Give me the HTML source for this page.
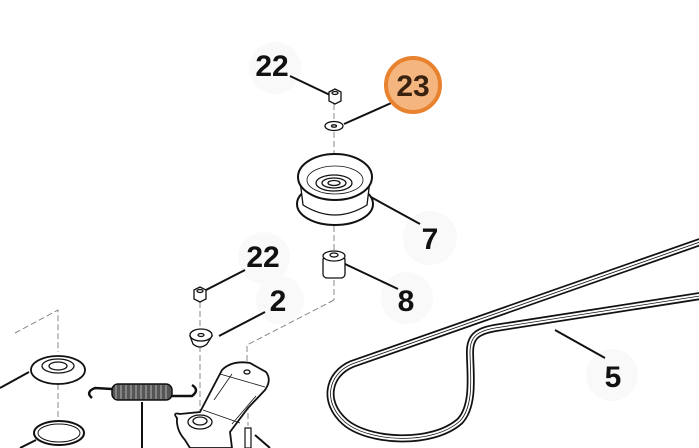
<!DOCTYPE html>
<html><head><meta charset="utf-8"><style>
html,body{margin:0;padding:0;background:#fff;width:699px;height:448px;overflow:hidden}
svg{display:block}
text{font-family:"Liberation Sans",sans-serif;font-weight:bold;font-size:30px;fill:#111}
</style></head><body>
<svg width="699" height="448" viewBox="0 0 699 448" xmlns="http://www.w3.org/2000/svg">
<g fill="#f9f9f9">
<circle cx="275" cy="68" r="26"/><circle cx="430" cy="238" r="27"/><circle cx="407" cy="298" r="26"/>
<circle cx="264" cy="258" r="26"/><circle cx="280" cy="300" r="24"/><circle cx="612" cy="375" r="26"/>
</g>
<g stroke="#888" stroke-width="1" stroke-dasharray="6,3" fill="none">
<line x1="334" y1="104" x2="334" y2="120"/><line x1="334" y1="132" x2="334" y2="168"/>
<line x1="334" y1="226" x2="334" y2="250"/><line x1="334" y1="280" x2="334" y2="300"/>
<polyline points="334,300 247,345 247,362"/>
<line x1="200" y1="302" x2="200" y2="330"/><line x1="200" y1="346" x2="200" y2="418"/>
<polyline points="15,333 58,310 58,352"/><line x1="58" y1="384" x2="58" y2="420"/>
<line x1="248" y1="395" x2="248" y2="426"/>
</g>
<g stroke="#111" stroke-width="2" fill="none">
<line x1="290" y1="76" x2="330" y2="95"/>
<line x1="344" y1="124" x2="398" y2="100"/>
<line x1="369" y1="196" x2="420" y2="224"/>
<line x1="345" y1="264" x2="398" y2="289"/>
<line x1="245" y1="270" x2="206" y2="290"/>
<line x1="265" y1="312" x2="219" y2="336"/>
<line x1="555" y1="330" x2="605" y2="358"/>
<line x1="0" y1="388" x2="29" y2="372"/>
<line x1="142" y1="402" x2="142" y2="448"/>
<line x1="255" y1="435" x2="270" y2="448"/>
<line x1="20" y1="448" x2="36" y2="440"/>
</g>
<g stroke="#111" stroke-width="1.3" fill="#fff">
<polygon points="329,92 335,89 341,92 341,101 335,104 329,101"/>
<ellipse cx="335" cy="93" rx="3" ry="1.5"/>
<ellipse cx="334" cy="126" rx="9" ry="4.5"/>
<ellipse cx="334" cy="126" rx="2.5" ry="1.2"/>
<ellipse cx="335" cy="204" rx="38" ry="21" stroke-width="2"/>
<path d="M300,180 L303,205 Q335,225 367,205 L370,180 Z" stroke-width="1.3"/>
<ellipse cx="335" cy="177" rx="37" ry="23" stroke-width="2"/>
<ellipse cx="335" cy="180" rx="28" ry="14" stroke-width="0.8"/>
<ellipse cx="334" cy="183" rx="18" ry="8"/>
<ellipse cx="334" cy="183" rx="12" ry="5"/>
<ellipse cx="334" cy="183" rx="6" ry="2.5"/>
<rect x="323" y="256" width="22" height="22" rx="4"/>
<ellipse cx="334" cy="256" rx="11" ry="5"/>
<ellipse cx="334" cy="255" rx="4" ry="2"/>
<polygon points="194,290 200,287 206,290 206,299 200,302 194,299"/>
<ellipse cx="200" cy="291" rx="3" ry="1.5"/>
<path d="M190,336 L193,344 Q200,350 207,344 L212,336 Z"/>
<ellipse cx="201" cy="335" rx="11" ry="6"/>
<ellipse cx="201" cy="335" rx="3" ry="1.5"/>
<ellipse cx="58" cy="370" rx="27" ry="14" stroke-width="1.8"/>
<ellipse cx="58" cy="366" rx="16" ry="7"/>
<ellipse cx="58" cy="366" rx="9" ry="4"/>
<ellipse cx="59" cy="433" rx="25" ry="12" stroke-width="2"/>
<ellipse cx="59" cy="433" rx="21" ry="9" stroke-width="1"/>
<path d="M177,418 Q172,412 180,414 L200,412 L222,370 Q232,360 250,363 L266,372 Q272,380 265,390 L248,408 L230,432 L232,448 L190,448 L185,440 Q176,430 177,418 Z" stroke-width="1.8"/>
<path d="M220,374 L265,387 M203,410 L240,423 M214,400 L232,374 M232,424 L256,396" stroke-width="0.8" fill="none"/>
<ellipse cx="247" cy="372" rx="3" ry="2"/>
<ellipse cx="200" cy="422" rx="12" ry="7"/>
<ellipse cx="200" cy="421" rx="7" ry="4"/>
<rect x="245" y="428" width="6" height="20" stroke-width="1.2"/>
</g>
<rect x="112" y="384" width="60" height="16" rx="6" fill="#555" stroke="#111" stroke-width="1.5"/>
<g stroke="#ccc" stroke-width="0.8">
<line x1="116" y1="385" x2="116" y2="399"/><line x1="121" y1="385" x2="121" y2="399"/><line x1="126" y1="385" x2="126" y2="399"/><line x1="131" y1="385" x2="131" y2="399"/><line x1="136" y1="385" x2="136" y2="399"/><line x1="141" y1="385" x2="141" y2="399"/><line x1="146" y1="385" x2="146" y2="399"/><line x1="151" y1="385" x2="151" y2="399"/><line x1="156" y1="385" x2="156" y2="399"/><line x1="161" y1="385" x2="161" y2="399"/><line x1="166" y1="385" x2="166" y2="399"/>
</g>
<path d="M112,389 L95,388 Q85,392 92,398" stroke="#111" stroke-width="2.5" fill="none"/>
<path d="M172,396 L192,396 Q200,390 192,385" stroke="#111" stroke-width="2.5" fill="none"/>
<path d="M700,242 L352,364 C328,374 322,402 345,422 C368,442 432,446 460,421 C475,405 470,372 470,352 C470,336 478,331 495,328 L700,296" fill="none" stroke="#111" stroke-width="8" stroke-linejoin="round"/>
<path d="M700,242 L352,364 C328,374 322,402 345,422 C368,442 432,446 460,421 C475,405 470,372 470,352 C470,336 478,331 495,328 L700,296" fill="none" stroke="#fff" stroke-width="4.5"/>
<path d="M700,242 L352,364 C328,374 322,402 345,422 C368,442 432,446 460,421 C475,405 470,372 470,352 C470,336 478,331 495,328 L700,296" fill="none" stroke="#111" stroke-width="0.8"/>
<circle cx="413" cy="85" r="27" fill="#f4b57f" stroke="#e8822e" stroke-width="4"/>
<text x="413" y="96" text-anchor="middle" style="fill:#3a2210">23</text>
<text x="272" y="76" text-anchor="middle">22</text>
<text x="430" y="249" text-anchor="middle">7</text>
<text x="406" y="311" text-anchor="middle">8</text>
<text x="263" y="267" text-anchor="middle">22</text>
<text x="278" y="311" text-anchor="middle">2</text>
<text x="613" y="387" text-anchor="middle">5</text>
</svg>
</body></html>
